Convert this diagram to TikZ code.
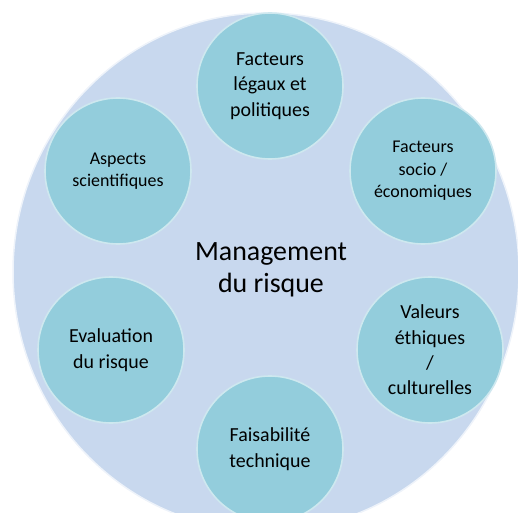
\documentclass[tikz,border=0pt]{standalone}
\usepackage{fontspec}
\setmainfont{Carlito}
\definecolor{discblue}{HTML}{C8D8EE}
\definecolor{petalblue}{HTML}{93CDDC}
\tikzset{
  petal/.style={circle, fill=petalblue, draw=white!55!petalblue, line width=1.6bp,
    minimum size=146bp, inner sep=0pt, align=center, text=black,
    font=\fontsize{20}{25.5}\selectfont},
  smallpetal/.style={petal, font=\fontsize{18}{22.5}\selectfont},
  hub/.style={align=center, inner sep=0pt, font=\fontsize{28}{32}\selectfont}
}
\begin{document}
\begin{tikzpicture}[x=1bp,y=-1bp]
  \useasboundingbox (0,0) rectangle (518,513);
  \clip (0,0) rectangle (518,513);
  \draw[fill=discblue, draw=white!70!discblue, line width=1.5bp]
    (266,272) ellipse [x radius=253, y radius=259];
  \node[hub] (hub) at (271,270) {Management\\du risque};
  \node[petal] (legal) at (270,86) {Facteurs\\légaux et\\politiques};
  \node[smallpetal] (socio) at (423,171) {Facteurs\\socio /\\économiques};
  \node[smallpetal] (science) at (118,171) {Aspects\\scientifiques};
  \node[petal] (eval) at (111,350) {Evaluation\\du risque};
  \node[petal] (ethics) at (430,350) {Valeurs\\éthiques\\/\\culturelles};
  \node[petal] (tech) at (270,449) {Faisabilité\\technique};
\end{tikzpicture}
\end{document}
